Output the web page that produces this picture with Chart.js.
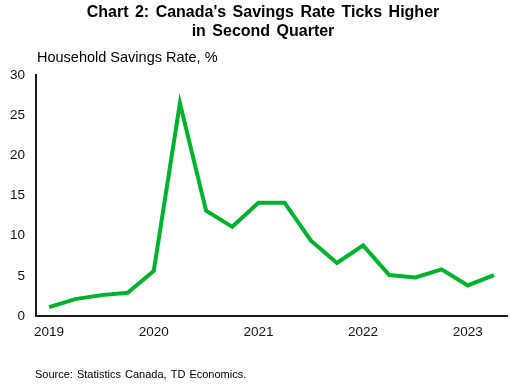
<!DOCTYPE html>
<html>
<head>
<meta charset="utf-8">
<script src="https://cdn.jsdelivr.net/npm/chart.js@4"></script>
<style>
  html, body { margin: 0; padding: 0; background: #fff; }
  #wrap { width: 515px; height: 385px; position: relative; }
</style>
</head>
<body>
<div id="wrap"><canvas id="chart" width="515" height="385"></canvas></div>
<script>
// quarterly household savings rate, 2019Q1 - 2023Q2
const quarters = [
  '2019Q1', '2019Q2', '2019Q3', '2019Q4',
  '2020Q1', '2020Q2', '2020Q3', '2020Q4',
  '2021Q1', '2021Q2', '2021Q3', '2021Q4',
  '2022Q1', '2022Q2', '2022Q3', '2022Q4',
  '2023Q1', '2023Q2'
];
const savingsRate = [
  1.1, 2.1, 2.6, 2.9,
  5.6, 26.5, 13.1, 11.1,
  14.1, 14.1, 9.4, 6.6,
  8.8, 5.1, 4.8, 5.8,
  3.8, 5.1
];
const yTicks = [0, 5, 10, 15, 20, 25, 30];

const titleLines = ["Chart 2: Canada's Savings Rate Ticks Higher", 'in Second Quarter'];
const axisTitle = 'Household Savings Rate, %';
const sourceText = 'Source: Statistics Canada, TD Economics.';

// draws title, axis caption and source note
const textPlugin = {
  id: 'texts',
  afterDraw(chart) {
    const ctx = chart.ctx;
    ctx.save();
    ctx.fillStyle = '#000';
    ctx.textBaseline = 'alphabetic';
    ctx.font = 'bold 16px "Liberation Sans", Arial, sans-serif';
    ctx.wordSpacing = '2px';
    ctx.textAlign = 'center';
    ctx.fillText(titleLines[0], 263, 17);
    ctx.fillText(titleLines[1], 263, 36);
    ctx.wordSpacing = '0px';

    ctx.textAlign = 'left';
    ctx.font = '14.5px "Liberation Sans", Arial, sans-serif';
    ctx.fillText(axisTitle, 37, 62);

    ctx.font = '11px "Liberation Sans", Arial, sans-serif';
    ctx.wordSpacing = '1px';
    ctx.fillText(sourceText, 35, 378);
    ctx.restore();
  }
};

new Chart(document.getElementById('chart'), {
  type: 'line',
  data: {
    labels: quarters,
    datasets: [{
      data: savingsRate,
      borderColor: '#00b32d',
      borderWidth: 4,
      pointRadius: 0,
      tension: 0,
      fill: false
    }]
  },
  options: {
    responsive: false,
    animation: false,
    layout: { padding: { top: 75, right: 8, bottom: 40, left: 0 } },
    plugins: {
      legend: { display: false },
      tooltip: { enabled: false }
    },
    scales: {
      x: {
        offset: true,
        grid: { display: false, drawTicks: false },
        border: { display: true, color: '#1c1c10', width: 2 },
        ticks: {
          autoSkip: false,
          maxRotation: 0,
          padding: 8,
          color: '#111',
          font: { family: '"Liberation Sans", Arial, sans-serif', size: 13.5 },
          callback: function (value) {
            const q = quarters[value];
            return q.endsWith('Q1') ? q.slice(0, 4) : '';
          }
        },
        afterFit(scale) { scale.height = 29; }
      },
      y: {
        min: 0,
        max: 30,
        afterBuildTicks(scale) { scale.ticks = yTicks.map(v => ({ value: v })); },
        grid: { display: false, drawTicks: false },
        border: { display: true, color: '#1c1c10', width: 2 },
        ticks: {
          padding: 11,
          color: '#111',
          font: { family: '"Liberation Sans", Arial, sans-serif', size: 13.5 }
        },
        afterFit(scale) { scale.width = 36; }
      }
    }
  },
  plugins: [textPlugin]
});
</script>
</body>
</html>
